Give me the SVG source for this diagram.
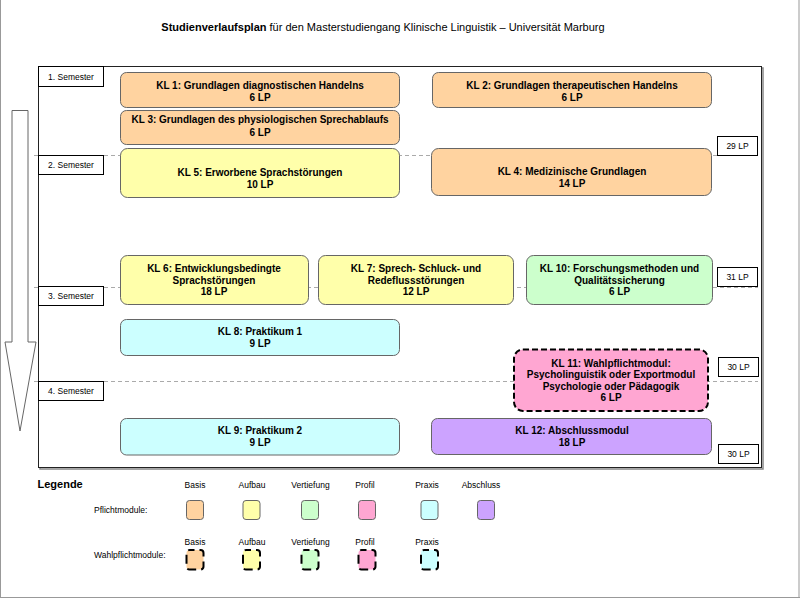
<svg xmlns="http://www.w3.org/2000/svg" width="800" height="599" viewBox="0 0 800 599">
<style>
text{font-family:"Liberation Sans",Arial,sans-serif;fill:#000}
.t{font-size:10px;font-weight:bold;text-anchor:middle}
.s{font-size:8.5px;text-anchor:middle}
.l{font-size:8.5px}
.box{stroke:#666;stroke-width:1}
.wp{stroke:#000;stroke-width:2;stroke-dasharray:6 3}
.wpl{stroke:#000;stroke-width:2;stroke-dasharray:9 5;stroke-dashoffset:4}
.basis{fill:#FFD3A0}.aufbau{fill:#FFFFAA}.vert{fill:#CCFFCC}.profil{fill:#FFA6D2}.praxis{fill:#CCFFFF}.absch{fill:#CCA3FF}
.lbl{fill:#fff;stroke:#000;stroke-width:1}
.sep{stroke:#aaa;stroke-width:1;stroke-dasharray:4 3;fill:none}
</style>
<rect x="0" y="0" width="800" height="599" fill="#fff"/>
<g id="page-border" fill="none" stroke="#999" stroke-width="1">
<line x1="0.5" y1="0" x2="0.5" y2="598"/>
<line x1="799" y1="0" x2="799" y2="598"/>
<line x1="0" y1="597.5" x2="800" y2="597.5"/>
</g>
<text x="383" y="31" style="font-size:11px;text-anchor:middle"><tspan font-weight="bold">Studienverlaufsplan</tspan> für den Masterstudiengang Klinische Linguistik – Universität Marburg</text>
<g id="frame">
<rect x="40" y="68" width="723" height="401" fill="none" stroke="#888" stroke-width="1.5"/>
<rect x="38.5" y="66.5" width="723" height="401" fill="#fff" stroke="#222" stroke-width="1"/>
</g>
<g id="connectors">
<line class="sep" x1="34" y1="155.5" x2="758" y2="155.5"/>
<line class="sep" x1="34" y1="287.5" x2="758" y2="287.5"/>
<line class="sep" x1="34" y1="381.5" x2="758" y2="381.5"/>
</g>
<g id="arrow">
<polygon points="12,110.5 28,110.5 28,342 36,342 20,431 5,342 12,342" fill="#fff" stroke="#666" stroke-width="1"/>
</g>
<g id="sem1"><rect class="lbl" x="38.5" y="66.5" width="65" height="20"/><text class="s" x="71" y="79.5">1. Semester</text></g>
<g id="sem2"><rect class="lbl" x="38.5" y="155.5" width="65" height="19"/><text class="s" x="71" y="168">2. Semester</text></g>
<g id="sem3"><rect class="lbl" x="38.5" y="286.5" width="65" height="19"/><text class="s" x="71" y="299">3. Semester</text></g>
<g id="sem4"><rect class="lbl" x="38.5" y="381.5" width="65" height="19"/><text class="s" x="71" y="394">4. Semester</text></g>
<g id="lp1"><rect class="lbl" x="717.5" y="136.5" width="40" height="19"/><text class="s" x="737.5" y="149">29 LP</text></g>
<g id="lp2"><rect class="lbl" x="717.5" y="267.5" width="40" height="19"/><text class="s" x="737.5" y="280">31 LP</text></g>
<g id="lp3"><rect class="lbl" x="718.5" y="357.5" width="40" height="19"/><text class="s" x="738.5" y="370">30 LP</text></g>
<g id="lp4"><rect class="lbl" x="718.5" y="444.5" width="40" height="19"/><text class="s" x="738.5" y="457">30 LP</text></g>
<g id="kl1"><rect class="box basis" x="120.5" y="72.5" width="279" height="35" rx="6"/><text class="t" x="260" y="89">KL 1: Grundlagen diagnostischen Handelns</text><text class="t" x="260" y="101">6 LP</text></g>
<g id="kl2"><rect class="box basis" x="432.5" y="72.5" width="279" height="35" rx="6"/><text class="t" x="572" y="89">KL 2: Grundlagen therapeutischen Handelns</text><text class="t" x="572" y="101">6 LP</text></g>
<g id="kl3"><rect class="box basis" x="120.5" y="110.5" width="279" height="34" rx="6"/><text class="t" x="260" y="123">KL 3: Grundlagen des physiologischen Sprechablaufs</text><text class="t" x="260" y="136">6 LP</text></g>
<g id="kl5"><rect class="box aufbau" x="120.5" y="148.5" width="279" height="49" rx="7"/><text class="t" x="260" y="176">KL 5: Erworbene Sprachstörungen</text><text class="t" x="260" y="188">10 LP</text></g>
<g id="kl4"><rect class="box basis" x="431.5" y="148.5" width="280" height="47" rx="7"/><text class="t" x="572" y="175">KL 4: Medizinische Grundlagen</text><text class="t" x="572" y="187">14 LP</text></g>
<g id="kl6"><rect class="box aufbau" x="120.5" y="255.5" width="188" height="49" rx="7"/><text class="t" x="214" y="272">KL 6: Entwicklungsbedingte</text><text class="t" x="214" y="283.5">Sprachstörungen</text><text class="t" x="214" y="295">18 LP</text></g>
<g id="kl7"><rect class="box aufbau" x="318.5" y="255.5" width="195" height="49" rx="7"/><text class="t" x="416" y="272">KL 7: Sprech- Schluck- und</text><text class="t" x="416" y="283.5">Redeflussstörungen</text><text class="t" x="416" y="295">12 LP</text></g>
<g id="kl10"><rect class="box vert" x="526.5" y="255.5" width="186" height="49" rx="7"/><text class="t" x="619.5" y="272">KL 10: Forschungsmethoden und</text><text class="t" x="619.5" y="283.5">Qualitätssicherung</text><text class="t" x="619.5" y="295">6 LP</text></g>
<g id="kl8"><rect class="box praxis" x="120.5" y="319.5" width="279" height="36" rx="6"/><text class="t" x="260" y="335">KL 8: Praktikum 1</text><text class="t" x="260" y="347">9 LP</text></g>
<g id="kl11"><rect class="wp profil" x="514" y="349.5" width="194" height="61.5" rx="9"/><text class="t" x="611" y="366.5">KL 11: Wahlpflichtmodul:</text><text class="t" x="611" y="378">Psycholinguistik oder Exportmodul</text><text class="t" x="611" y="389.5">Psychologie oder Pädagogik</text><text class="t" x="611" y="401">6 LP</text></g>
<g id="kl9"><rect class="box praxis" x="120.5" y="418.5" width="279" height="36.5" rx="6"/><text class="t" x="260" y="434">KL 9: Praktikum 2</text><text class="t" x="260" y="446">9 LP</text></g>
<g id="kl12"><rect class="box absch" x="431.5" y="418.5" width="280" height="36" rx="6"/><text class="t" x="572" y="434">KL 12: Abschlussmodul</text><text class="t" x="572" y="446">18 LP</text></g>
<g id="legend">
<text x="37.5" y="488" style="font-size:11px;font-weight:bold">Legende</text>
<text class="s" x="195" y="487.5">Basis</text><text class="s" x="252" y="487.5">Aufbau</text><text class="s" x="310.5" y="487.5">Vertiefung</text><text class="s" x="365" y="487.5">Profil</text><text class="s" x="427" y="487.5">Praxis</text><text class="s" x="481" y="487.5">Abschluss</text>
<text class="s" x="195" y="545">Basis</text><text class="s" x="252" y="545">Aufbau</text><text class="s" x="310.5" y="545">Vertiefung</text><text class="s" x="365" y="545">Profil</text><text class="s" x="427" y="545">Praxis</text>
<text class="l" x="94" y="512.5">Pflichtmodule:</text>
<text class="l" x="94" y="558">Wahlpflichtmodule:</text>
<rect class="box basis" x="186.5" y="500.5" width="17" height="19" rx="3"/>
<rect class="box aufbau" x="243" y="500.5" width="17" height="19" rx="3"/>
<rect class="box vert" x="301.5" y="500.5" width="17" height="19" rx="3"/>
<rect class="box profil" x="358.5" y="500.5" width="17" height="19" rx="3"/>
<rect class="box praxis" x="421" y="500.5" width="17" height="19" rx="3"/>
<rect class="box absch" x="477.5" y="500.5" width="17" height="19" rx="3"/>
<rect class="wpl basis" x="186.5" y="550" width="17" height="19.5" rx="3"/>
<rect class="wpl aufbau" x="243" y="550" width="17" height="19.5" rx="3"/>
<rect class="wpl vert" x="301.5" y="550" width="17" height="19.5" rx="3"/>
<rect class="wpl profil" x="358.5" y="550" width="17" height="19.5" rx="3"/>
<rect class="wpl praxis" x="421" y="550" width="17" height="19.5" rx="3"/>
</g>
</svg>
